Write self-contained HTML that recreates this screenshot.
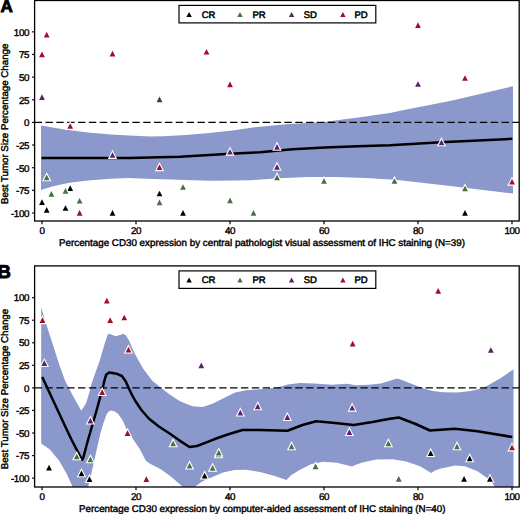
<!DOCTYPE html>
<html><head><meta charset="utf-8"><title>Figure</title>
<style>
html,body{margin:0;padding:0;background:#fff;}
body{width:520px;height:514px;overflow:hidden;font-family:"Liberation Sans",sans-serif;}
svg{display:block;}
text{font-family:"Liberation Sans",sans-serif;fill:#000;text-rendering:geometricPrecision;}
.tk{font-size:9.8px;letter-spacing:-0.4px;stroke:#000;stroke-width:0.4px;}
.ax{font-size:9.8px;stroke:#000;stroke-width:0.42px;}
.lg{font-size:9.5px;letter-spacing:-0.15px;stroke:#000;stroke-width:0.5px;}
.pl{font-weight:bold;stroke:#000;stroke-width:0.9px;}
</style></head>
<body>
<svg width="520" height="514" viewBox="0 0 520 514">
<rect width="520" height="514" fill="#fff"/>
<clipPath id="ca"><rect x="34.6" y="0.5" width="484.6" height="220.5"/></clipPath>
<g clip-path="url(#ca)">
<polygon points="41.00,125.60 64.60,129.60 87.70,132.60 110.80,134.50 129.30,135.60 150.00,136.60 163.00,136.20 186.00,134.90 209.30,133.00 232.40,130.40 254.60,127.30 289.00,124.00 324.00,122.00 358.00,117.60 390.00,113.00 400.00,110.80 450.00,101.00 513.00,86.20 513.00,193.50 450.00,186.00 400.00,180.30 390.00,179.60 365.30,178.00 336.50,176.90 307.60,176.90 278.80,178.30 250.00,180.20 232.40,180.50 209.30,180.70 186.00,180.00 163.00,179.30 140.00,178.50 129.30,178.00 110.80,178.80 87.70,180.40 69.30,182.70 53.00,186.20 41.00,190.00" fill="#8a98cb"/>
<line x1="34.6" x2="519.2" y1="122.40" y2="122.40" stroke="#000" stroke-width="1.3" stroke-dasharray="7.4 3.46"/>
<polyline points="41.50,158.00 130.00,158.00 180.00,156.70 230.00,153.80 260.00,152.30 292.50,149.30 325.00,147.50 357.50,146.30 390.00,145.30 441.00,142.30 512.30,138.80" fill="none" stroke="#000" stroke-width="2.5" stroke-linejoin="round"/>
</g>
<polygon points="42.00,199.25 44.90,204.95 39.10,204.95" fill="#000000" stroke="#fff" stroke-width="2.2" stroke-linejoin="miter" paint-order="stroke"/>
<polygon points="46.70,206.95 49.60,212.65 43.80,212.65" fill="#000000" stroke="#fff" stroke-width="2.2" stroke-linejoin="miter" paint-order="stroke"/>
<polygon points="65.50,205.14 68.40,210.84 62.60,210.84" fill="#000000" stroke="#fff" stroke-width="2.2" stroke-linejoin="miter" paint-order="stroke"/>
<polygon points="70.20,185.21 73.10,190.91 67.30,190.91" fill="#000000" stroke="#fff" stroke-width="2.2" stroke-linejoin="miter" paint-order="stroke"/>
<polygon points="112.50,210.12 115.40,215.82 109.60,215.82" fill="#000000" stroke="#fff" stroke-width="2.2" stroke-linejoin="miter" paint-order="stroke"/>
<polygon points="159.50,190.65 162.40,196.35 156.60,196.35" fill="#000000" stroke="#fff" stroke-width="2.2" stroke-linejoin="miter" paint-order="stroke"/>
<polygon points="183.00,210.12 185.90,215.82 180.10,215.82" fill="#000000" stroke="#fff" stroke-width="2.2" stroke-linejoin="miter" paint-order="stroke"/>
<polygon points="465.00,210.12 467.90,215.82 462.10,215.82" fill="#000000" stroke="#fff" stroke-width="2.2" stroke-linejoin="miter" paint-order="stroke"/>
<polygon points="46.70,174.44 49.60,180.14 43.80,180.14" fill="#467242" stroke="#fff" stroke-width="2.2" stroke-linejoin="miter" paint-order="stroke"/>
<polygon points="51.40,191.10 54.30,196.80 48.50,196.80" fill="#467242" stroke="#fff" stroke-width="2.2" stroke-linejoin="miter" paint-order="stroke"/>
<polygon points="65.50,187.93 68.40,193.63 62.60,193.63" fill="#467242" stroke="#fff" stroke-width="2.2" stroke-linejoin="miter" paint-order="stroke"/>
<polygon points="79.60,197.89 82.50,203.59 76.70,203.59" fill="#467242" stroke="#fff" stroke-width="2.2" stroke-linejoin="miter" paint-order="stroke"/>
<polygon points="159.50,199.61 162.40,205.31 156.60,205.31" fill="#467242" stroke="#fff" stroke-width="2.2" stroke-linejoin="miter" paint-order="stroke"/>
<polygon points="183.00,184.13 185.90,189.83 180.10,189.83" fill="#467242" stroke="#fff" stroke-width="2.2" stroke-linejoin="miter" paint-order="stroke"/>
<polygon points="230.00,197.62 232.90,203.32 227.10,203.32" fill="#467242" stroke="#fff" stroke-width="2.2" stroke-linejoin="miter" paint-order="stroke"/>
<polygon points="253.50,210.12 256.40,215.82 250.60,215.82" fill="#467242" stroke="#fff" stroke-width="2.2" stroke-linejoin="miter" paint-order="stroke"/>
<polygon points="277.00,174.44 279.90,180.14 274.10,180.14" fill="#467242" stroke="#fff" stroke-width="2.2" stroke-linejoin="miter" paint-order="stroke"/>
<polygon points="324.00,178.15 326.90,183.85 321.10,183.85" fill="#467242" stroke="#fff" stroke-width="2.2" stroke-linejoin="miter" paint-order="stroke"/>
<polygon points="394.50,178.15 397.40,183.85 391.60,183.85" fill="#467242" stroke="#fff" stroke-width="2.2" stroke-linejoin="miter" paint-order="stroke"/>
<polygon points="465.00,185.67 467.90,191.37 462.10,191.37" fill="#467242" stroke="#fff" stroke-width="2.2" stroke-linejoin="miter" paint-order="stroke"/>
<polygon points="42.00,94.19 44.90,99.89 39.10,99.89" fill="#5c2169" stroke="#fff" stroke-width="2.2" stroke-linejoin="miter" paint-order="stroke"/>
<polygon points="112.50,152.16 115.40,157.86 109.60,157.86" fill="#5c2169" stroke="#fff" stroke-width="2.2" stroke-linejoin="miter" paint-order="stroke"/>
<polygon points="159.50,96.45 162.40,102.15 156.60,102.15" fill="#5c2169" stroke="#fff" stroke-width="2.2" stroke-linejoin="miter" paint-order="stroke"/>
<polygon points="230.00,148.89 232.90,154.59 227.10,154.59" fill="#5c2169" stroke="#fff" stroke-width="2.2" stroke-linejoin="miter" paint-order="stroke"/>
<polygon points="277.00,144.00 279.90,149.70 274.10,149.70" fill="#5c2169" stroke="#fff" stroke-width="2.2" stroke-linejoin="miter" paint-order="stroke"/>
<polygon points="277.00,163.93 279.90,169.63 274.10,169.63" fill="#5c2169" stroke="#fff" stroke-width="2.2" stroke-linejoin="miter" paint-order="stroke"/>
<polygon points="418.00,81.15 420.90,86.85 415.10,86.85" fill="#5c2169" stroke="#fff" stroke-width="2.2" stroke-linejoin="miter" paint-order="stroke"/>
<polygon points="441.50,139.48 444.40,145.18 438.60,145.18" fill="#5c2169" stroke="#fff" stroke-width="2.2" stroke-linejoin="miter" paint-order="stroke"/>
<polygon points="42.00,51.62 44.90,57.32 39.10,57.32" fill="#a00f24" stroke="#fff" stroke-width="2.2" stroke-linejoin="miter" paint-order="stroke"/>
<polygon points="46.70,31.70 49.60,37.40 43.80,37.40" fill="#a00f24" stroke="#fff" stroke-width="2.2" stroke-linejoin="miter" paint-order="stroke"/>
<polygon points="70.20,123.17 73.10,128.87 67.30,128.87" fill="#a00f24" stroke="#fff" stroke-width="2.2" stroke-linejoin="miter" paint-order="stroke"/>
<polygon points="79.60,210.12 82.50,215.82 76.70,215.82" fill="#a00f24" stroke="#fff" stroke-width="2.2" stroke-linejoin="miter" paint-order="stroke"/>
<polygon points="112.50,50.72 115.40,56.42 109.60,56.42" fill="#a00f24" stroke="#fff" stroke-width="2.2" stroke-linejoin="miter" paint-order="stroke"/>
<polygon points="159.50,164.38 162.40,170.08 156.60,170.08" fill="#a00f24" stroke="#fff" stroke-width="2.2" stroke-linejoin="miter" paint-order="stroke"/>
<polygon points="206.50,48.91 209.40,54.61 203.60,54.61" fill="#a00f24" stroke="#fff" stroke-width="2.2" stroke-linejoin="miter" paint-order="stroke"/>
<polygon points="230.00,81.51 232.90,87.21 227.10,87.21" fill="#a00f24" stroke="#fff" stroke-width="2.2" stroke-linejoin="miter" paint-order="stroke"/>
<polygon points="418.00,22.19 420.90,27.89 415.10,27.89" fill="#a00f24" stroke="#fff" stroke-width="2.2" stroke-linejoin="miter" paint-order="stroke"/>
<polygon points="465.00,75.17 467.90,80.87 462.10,80.87" fill="#a00f24" stroke="#fff" stroke-width="2.2" stroke-linejoin="miter" paint-order="stroke"/>
<polygon points="512.00,178.87 514.90,184.57 509.10,184.57" fill="#a00f24" stroke="#fff" stroke-width="2.2" stroke-linejoin="miter" paint-order="stroke"/>
<rect x="34.6" y="0.5" width="484.6" height="220.5" fill="none" stroke="#000" stroke-width="1.3"/>
<line x1="32.1" x2="34.6" y1="31.83" y2="31.83" stroke="#000" stroke-width="1.2"/>
<text class="tk" x="29.0" y="35.83" text-anchor="end">100</text>
<line x1="32.1" x2="34.6" y1="54.47" y2="54.47" stroke="#000" stroke-width="1.2"/>
<text class="tk" x="29.0" y="58.47" text-anchor="end">75</text>
<line x1="32.1" x2="34.6" y1="77.12" y2="77.12" stroke="#000" stroke-width="1.2"/>
<text class="tk" x="29.0" y="81.12" text-anchor="end">50</text>
<line x1="32.1" x2="34.6" y1="99.76" y2="99.76" stroke="#000" stroke-width="1.2"/>
<text class="tk" x="29.0" y="103.76" text-anchor="end">25</text>
<line x1="32.1" x2="34.6" y1="122.40" y2="122.40" stroke="#000" stroke-width="1.2"/>
<text class="tk" x="29.0" y="126.40" text-anchor="end">0</text>
<line x1="32.1" x2="34.6" y1="145.04" y2="145.04" stroke="#000" stroke-width="1.2"/>
<text class="tk" x="29.0" y="149.04" text-anchor="end">-25</text>
<line x1="32.1" x2="34.6" y1="167.69" y2="167.69" stroke="#000" stroke-width="1.2"/>
<text class="tk" x="29.0" y="171.69" text-anchor="end">-50</text>
<line x1="32.1" x2="34.6" y1="190.33" y2="190.33" stroke="#000" stroke-width="1.2"/>
<text class="tk" x="29.0" y="194.33" text-anchor="end">-75</text>
<line x1="32.1" x2="34.6" y1="212.97" y2="212.97" stroke="#000" stroke-width="1.2"/>
<text class="tk" x="29.0" y="216.97" text-anchor="end">-100</text>
<line x1="42.00" x2="42.00" y1="221.0" y2="224.3" stroke="#000" stroke-width="1.2"/>
<text class="tk" x="42.00" y="234.40" text-anchor="middle">0</text>
<line x1="136.00" x2="136.00" y1="221.0" y2="224.3" stroke="#000" stroke-width="1.2"/>
<text class="tk" x="136.00" y="234.40" text-anchor="middle">20</text>
<line x1="230.00" x2="230.00" y1="221.0" y2="224.3" stroke="#000" stroke-width="1.2"/>
<text class="tk" x="230.00" y="234.40" text-anchor="middle">40</text>
<line x1="324.00" x2="324.00" y1="221.0" y2="224.3" stroke="#000" stroke-width="1.2"/>
<text class="tk" x="324.00" y="234.40" text-anchor="middle">60</text>
<line x1="418.00" x2="418.00" y1="221.0" y2="224.3" stroke="#000" stroke-width="1.2"/>
<text class="tk" x="418.00" y="234.40" text-anchor="middle">80</text>
<line x1="512.00" x2="512.00" y1="221.0" y2="224.3" stroke="#000" stroke-width="1.2"/>
<text class="tk" x="512.00" y="234.40" text-anchor="middle">100</text>
<text class="ax" x="59" y="246.20" textLength="406" lengthAdjust="spacingAndGlyphs">Percentage CD30 expression by central pathologist visual assessment of IHC staining (N=39)</text>
<text class="ax" transform="translate(8.3,204.0) rotate(-90)" textLength="160.4" lengthAdjust="spacingAndGlyphs">Best Tumor Size Percentage Change</text>
<rect x="179" y="5.4" width="196.8" height="17.5" fill="#fff" stroke="#000" stroke-width="1.2"/>
<polygon points="189.10,12.10 191.80,17.10 186.40,17.10" fill="#000000"/>
<text class="lg" x="201.7" y="17.50">CR</text>
<polygon points="240.00,12.10 242.70,17.10 237.30,17.10" fill="#467242"/>
<text class="lg" x="252.5" y="17.50">PR</text>
<polygon points="291.60,12.10 294.30,17.10 288.90,17.10" fill="#5c2169"/>
<text class="lg" x="303.8" y="17.50">SD</text>
<polygon points="342.90,12.10 345.60,17.10 340.20,17.10" fill="#a00f24"/>
<text class="lg" x="354.6" y="17.50">PD</text>
<clipPath id="cb"><rect x="34.6" y="265.9" width="484.6" height="221.10000000000002"/></clipPath>
<g clip-path="url(#cb)">
<polygon points="41.20,307.00 43.60,315.40 46.30,324.30 59.30,364.70 65.00,380.50 72.50,395.00 81.30,410.80 86.20,403.00 89.00,393.50 91.50,384.00 94.20,376.00 99.30,362.00 104.80,343.30 107.90,334.00 110.50,334.30 115.70,336.30 120.00,335.00 123.50,333.70 126.00,335.50 128.90,340.20 135.10,354.20 142.90,368.20 152.30,380.70 160.00,386.90 170.00,394.70 180.00,401.25 192.50,406.25 202.50,407.00 212.50,403.75 222.50,398.75 235.00,392.50 246.20,390.20 260.00,389.30 276.20,387.70 287.80,384.40 300.00,383.00 313.90,383.60 332.30,384.70 339.30,384.20 347.30,383.70 355.40,385.20 369.30,384.70 380.80,383.60 390.00,380.80 397.00,378.40 404.00,380.80 410.00,383.30 425.30,389.10 433.00,390.90 443.00,392.20 457.00,392.50 471.00,391.10 481.00,388.40 486.00,386.60 501.30,377.70 513.50,369.20 513.50,487.00 495.00,487.00 490.00,480.00 477.50,471.25 465.00,466.25 455.00,465.50 440.00,468.75 435.00,470.50 431.25,473.00 420.00,466.25 406.20,461.60 392.40,459.30 376.20,459.50 362.40,462.60 356.50,464.60 352.00,466.40 337.00,462.80 323.00,461.80 311.50,463.90 300.00,469.70 291.00,475.30 286.40,480.00 274.00,475.70 260.00,472.00 246.00,469.80 234.60,470.00 223.00,472.50 212.50,477.00 202.50,481.25 194.50,487.00 183.00,487.00 171.50,477.00 160.80,469.20 151.50,464.60 146.00,461.00 140.00,449.50 133.50,439.70 126.50,429.20 123.00,421.00 118.30,414.00 114.50,411.30 111.30,410.40 109.00,411.20 106.70,414.00 103.30,423.50 100.20,434.00 96.80,449.20 92.50,468.50 88.10,487.00 72.70,487.00 66.90,474.20 59.20,460.80 49.60,449.20 41.20,443.50" fill="#8a98cb"/>
<line x1="34.6" x2="519.2" y1="387.90" y2="387.90" stroke="#000" stroke-width="1.3" stroke-dasharray="7.4 3.46"/>
<polyline points="42.20,377.00 66.90,430.00 71.70,440.00 80.80,457.60 82.30,459.80 83.40,457.30 88.00,440.00 96.70,410.00 102.50,388.50 104.80,379.10 106.30,374.50 109.50,372.40 116.50,373.70 121.90,376.00 125.80,381.50 128.90,388.50 132.00,395.00 135.40,401.00 141.20,409.80 148.80,418.50 158.50,426.20 170.00,433.80 179.60,440.60 189.50,447.00 196.90,446.00 206.50,442.40 217.50,438.00 230.00,433.75 242.50,430.00 260.00,430.00 287.50,430.75 302.50,425.00 316.25,421.25 335.00,423.00 353.75,425.00 372.50,422.00 390.00,418.75 398.75,417.50 415.00,423.75 430.00,430.50 455.00,428.75 477.50,431.25 512.30,437.00" fill="none" stroke="#000" stroke-width="2.5" stroke-linejoin="round"/>
</g>
<polygon points="49.05,464.83 51.95,470.53 46.15,470.53" fill="#000000" stroke="#fff" stroke-width="2.2" stroke-linejoin="miter" paint-order="stroke"/>
<polygon points="81.48,470.52 84.38,476.22 78.58,476.22" fill="#000000" stroke="#fff" stroke-width="2.2" stroke-linejoin="miter" paint-order="stroke"/>
<polygon points="89.47,476.20 92.37,481.90 86.57,481.90" fill="#000000" stroke="#fff" stroke-width="2.2" stroke-linejoin="miter" paint-order="stroke"/>
<polygon points="204.62,472.77 207.52,478.47 201.72,478.47" fill="#000000" stroke="#fff" stroke-width="2.2" stroke-linejoin="miter" paint-order="stroke"/>
<polygon points="430.69,450.30 433.59,456.00 427.79,456.00" fill="#000000" stroke="#fff" stroke-width="2.2" stroke-linejoin="miter" paint-order="stroke"/>
<polygon points="469.70,455.54 472.60,461.24 466.80,461.24" fill="#000000" stroke="#fff" stroke-width="2.2" stroke-linejoin="miter" paint-order="stroke"/>
<polygon points="464.06,476.02 466.96,481.72 461.16,481.72" fill="#000000" stroke="#fff" stroke-width="2.2" stroke-linejoin="miter" paint-order="stroke"/>
<polygon points="489.91,476.02 492.81,481.72 487.01,481.72" fill="#000000" stroke="#fff" stroke-width="2.2" stroke-linejoin="miter" paint-order="stroke"/>
<polygon points="76.78,453.55 79.68,459.25 73.88,459.25" fill="#467242" stroke="#fff" stroke-width="2.2" stroke-linejoin="miter" paint-order="stroke"/>
<polygon points="90.41,456.53 93.31,462.23 87.51,462.23" fill="#467242" stroke="#fff" stroke-width="2.2" stroke-linejoin="miter" paint-order="stroke"/>
<polygon points="173.13,440.55 176.03,446.25 170.23,446.25" fill="#467242" stroke="#fff" stroke-width="2.2" stroke-linejoin="miter" paint-order="stroke"/>
<polygon points="189.58,462.76 192.48,468.46 186.68,468.46" fill="#467242" stroke="#fff" stroke-width="2.2" stroke-linejoin="miter" paint-order="stroke"/>
<polygon points="212.61,465.01 215.51,470.71 209.71,470.71" fill="#467242" stroke="#fff" stroke-width="2.2" stroke-linejoin="miter" paint-order="stroke"/>
<polygon points="218.48,451.47 221.38,457.17 215.58,457.17" fill="#467242" stroke="#fff" stroke-width="2.2" stroke-linejoin="miter" paint-order="stroke"/>
<polygon points="218.72,449.76 221.62,455.46 215.82,455.46" fill="#467242" stroke="#fff" stroke-width="2.2" stroke-linejoin="miter" paint-order="stroke"/>
<polygon points="291.57,443.53 294.47,449.23 288.67,449.23" fill="#467242" stroke="#fff" stroke-width="2.2" stroke-linejoin="miter" paint-order="stroke"/>
<polygon points="315.54,463.57 318.44,469.27 312.64,469.27" fill="#467242" stroke="#fff" stroke-width="2.2" stroke-linejoin="miter" paint-order="stroke"/>
<polygon points="388.39,440.55 391.29,446.25 385.49,446.25" fill="#467242" stroke="#fff" stroke-width="2.2" stroke-linejoin="miter" paint-order="stroke"/>
<polygon points="398.73,476.02 401.63,481.72 395.83,481.72" fill="#467242" stroke="#fff" stroke-width="2.2" stroke-linejoin="miter" paint-order="stroke"/>
<polygon points="457.01,443.53 459.91,449.23 454.11,449.23" fill="#467242" stroke="#fff" stroke-width="2.2" stroke-linejoin="miter" paint-order="stroke"/>
<polygon points="44.35,360.32 47.25,366.02 41.45,366.02" fill="#5c2169" stroke="#fff" stroke-width="2.2" stroke-linejoin="miter" paint-order="stroke"/>
<polygon points="90.41,417.81 93.31,423.51 87.51,423.51" fill="#5c2169" stroke="#fff" stroke-width="2.2" stroke-linejoin="miter" paint-order="stroke"/>
<polygon points="201.33,362.49 204.23,368.19 198.43,368.19" fill="#5c2169" stroke="#fff" stroke-width="2.2" stroke-linejoin="miter" paint-order="stroke"/>
<polygon points="240.34,409.78 243.24,415.48 237.44,415.48" fill="#5c2169" stroke="#fff" stroke-width="2.2" stroke-linejoin="miter" paint-order="stroke"/>
<polygon points="257.73,403.55 260.63,409.25 254.83,409.25" fill="#5c2169" stroke="#fff" stroke-width="2.2" stroke-linejoin="miter" paint-order="stroke"/>
<polygon points="287.34,414.29 290.24,419.99 284.44,419.99" fill="#5c2169" stroke="#fff" stroke-width="2.2" stroke-linejoin="miter" paint-order="stroke"/>
<polygon points="352.20,404.90 355.10,410.61 349.30,410.61" fill="#5c2169" stroke="#fff" stroke-width="2.2" stroke-linejoin="miter" paint-order="stroke"/>
<polygon points="349.38,429.27 352.28,434.97 346.48,434.97" fill="#5c2169" stroke="#fff" stroke-width="2.2" stroke-linejoin="miter" paint-order="stroke"/>
<polygon points="490.85,347.14 493.75,352.85 487.95,352.85" fill="#5c2169" stroke="#fff" stroke-width="2.2" stroke-linejoin="miter" paint-order="stroke"/>
<polygon points="42.47,317.36 45.37,323.06 39.57,323.06" fill="#a00f24" stroke="#fff" stroke-width="2.2" stroke-linejoin="miter" paint-order="stroke"/>
<polygon points="106.86,297.78 109.76,303.48 103.96,303.48" fill="#a00f24" stroke="#fff" stroke-width="2.2" stroke-linejoin="miter" paint-order="stroke"/>
<polygon points="110.15,317.36 113.05,323.06 107.25,323.06" fill="#a00f24" stroke="#fff" stroke-width="2.2" stroke-linejoin="miter" paint-order="stroke"/>
<polygon points="124.25,314.65 127.15,320.36 121.35,320.36" fill="#a00f24" stroke="#fff" stroke-width="2.2" stroke-linejoin="miter" paint-order="stroke"/>
<polygon points="128.48,346.78 131.38,352.48 125.58,352.48" fill="#a00f24" stroke="#fff" stroke-width="2.2" stroke-linejoin="miter" paint-order="stroke"/>
<polygon points="102.16,389.29 105.06,394.99 99.26,394.99" fill="#a00f24" stroke="#fff" stroke-width="2.2" stroke-linejoin="miter" paint-order="stroke"/>
<polygon points="127.54,430.17 130.44,435.88 124.64,435.88" fill="#a00f24" stroke="#fff" stroke-width="2.2" stroke-linejoin="miter" paint-order="stroke"/>
<polygon points="146.34,476.20 149.24,481.90 143.44,481.90" fill="#a00f24" stroke="#fff" stroke-width="2.2" stroke-linejoin="miter" paint-order="stroke"/>
<polygon points="352.67,340.83 355.57,346.53 349.77,346.53" fill="#a00f24" stroke="#fff" stroke-width="2.2" stroke-linejoin="miter" paint-order="stroke"/>
<polygon points="438.21,288.03 441.11,293.73 435.31,293.73" fill="#a00f24" stroke="#fff" stroke-width="2.2" stroke-linejoin="miter" paint-order="stroke"/>
<polygon points="512.00,444.61 514.90,450.31 509.10,450.31" fill="#a00f24" stroke="#fff" stroke-width="2.2" stroke-linejoin="miter" paint-order="stroke"/>
<rect x="34.6" y="265.9" width="484.6" height="221.10000000000002" fill="none" stroke="#000" stroke-width="1.3"/>
<line x1="32.1" x2="34.6" y1="297.65" y2="297.65" stroke="#000" stroke-width="1.2"/>
<text class="tk" x="29.0" y="300.85" text-anchor="end">100</text>
<line x1="32.1" x2="34.6" y1="320.21" y2="320.21" stroke="#000" stroke-width="1.2"/>
<text class="tk" x="29.0" y="323.51" text-anchor="end">75</text>
<line x1="32.1" x2="34.6" y1="342.77" y2="342.77" stroke="#000" stroke-width="1.2"/>
<text class="tk" x="29.0" y="346.17" text-anchor="end">50</text>
<line x1="32.1" x2="34.6" y1="365.34" y2="365.34" stroke="#000" stroke-width="1.2"/>
<text class="tk" x="29.0" y="368.84" text-anchor="end">25</text>
<line x1="32.1" x2="34.6" y1="387.90" y2="387.90" stroke="#000" stroke-width="1.2"/>
<text class="tk" x="29.0" y="391.50" text-anchor="end">0</text>
<line x1="32.1" x2="34.6" y1="410.46" y2="410.46" stroke="#000" stroke-width="1.2"/>
<text class="tk" x="29.0" y="414.16" text-anchor="end">-25</text>
<line x1="32.1" x2="34.6" y1="433.02" y2="433.02" stroke="#000" stroke-width="1.2"/>
<text class="tk" x="29.0" y="436.82" text-anchor="end">-50</text>
<line x1="32.1" x2="34.6" y1="455.59" y2="455.59" stroke="#000" stroke-width="1.2"/>
<text class="tk" x="29.0" y="459.49" text-anchor="end">-75</text>
<line x1="32.1" x2="34.6" y1="478.15" y2="478.15" stroke="#000" stroke-width="1.2"/>
<text class="tk" x="29.0" y="482.15" text-anchor="end">-100</text>
<line x1="42.00" x2="42.00" y1="487.0" y2="490.3" stroke="#000" stroke-width="1.2"/>
<text class="tk" x="42.00" y="500.40" text-anchor="middle">0</text>
<line x1="136.00" x2="136.00" y1="487.0" y2="490.3" stroke="#000" stroke-width="1.2"/>
<text class="tk" x="136.00" y="500.40" text-anchor="middle">20</text>
<line x1="230.00" x2="230.00" y1="487.0" y2="490.3" stroke="#000" stroke-width="1.2"/>
<text class="tk" x="230.00" y="500.40" text-anchor="middle">40</text>
<line x1="324.00" x2="324.00" y1="487.0" y2="490.3" stroke="#000" stroke-width="1.2"/>
<text class="tk" x="324.00" y="500.40" text-anchor="middle">60</text>
<line x1="418.00" x2="418.00" y1="487.0" y2="490.3" stroke="#000" stroke-width="1.2"/>
<text class="tk" x="418.00" y="500.40" text-anchor="middle">80</text>
<line x1="512.00" x2="512.00" y1="487.0" y2="490.3" stroke="#000" stroke-width="1.2"/>
<text class="tk" x="512.00" y="500.40" text-anchor="middle">100</text>
<text class="ax" x="79" y="512.20" textLength="366.5" lengthAdjust="spacingAndGlyphs">Percentage CD30 expression by computer-aided assessment of IHC staining (N=40)</text>
<text class="ax" transform="translate(8.3,469.3) rotate(-90)" textLength="160.4" lengthAdjust="spacingAndGlyphs">Best Tumor Size Percentage Change</text>
<rect x="179" y="270.9" width="196.8" height="17.5" fill="#fff" stroke="#000" stroke-width="1.2"/>
<polygon points="189.10,277.60 191.80,282.60 186.40,282.60" fill="#000000"/>
<text class="lg" x="201.7" y="283.00">CR</text>
<polygon points="240.00,277.60 242.70,282.60 237.30,282.60" fill="#467242"/>
<text class="lg" x="252.5" y="283.00">PR</text>
<polygon points="291.60,277.60 294.30,282.60 288.90,282.60" fill="#5c2169"/>
<text class="lg" x="303.8" y="283.00">SD</text>
<polygon points="342.90,277.60 345.60,282.60 340.20,282.60" fill="#a00f24"/>
<text class="lg" x="354.6" y="283.00">PD</text>
<text class="pl" x="0.5" y="11.9" font-size="17">A</text>
<text class="pl" x="-2.4" y="278.0" font-size="18.5">B</text>
</svg>
</body></html>
